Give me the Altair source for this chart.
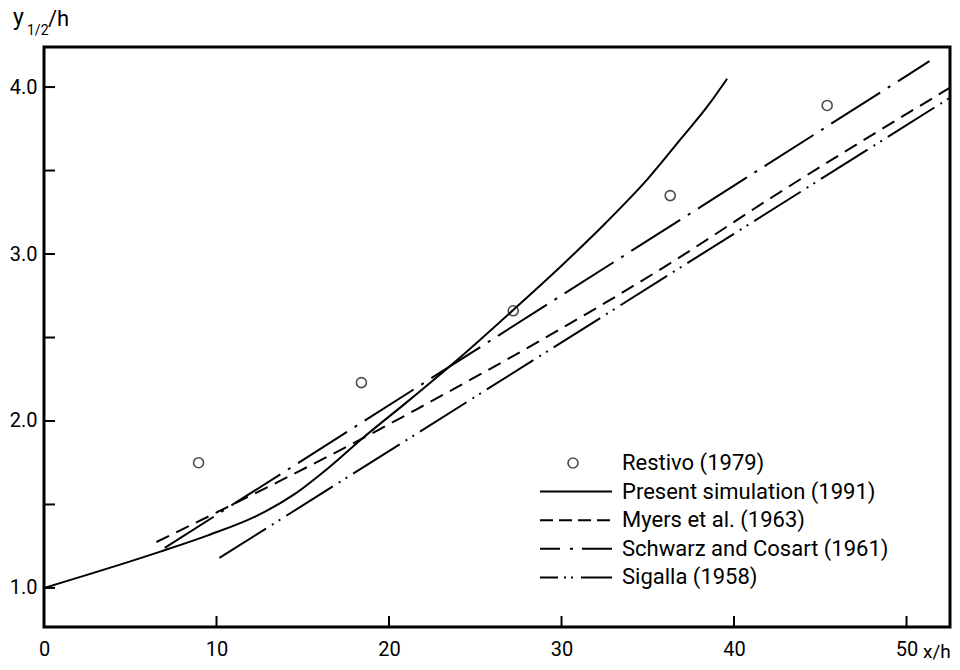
import altair as alt
import pandas as pd

# ---- data ----
restivo_x = [8.96, 18.4, 27.2, 36.3, 45.4]
restivo_y = [1.75, 2.23, 2.66, 3.35, 3.89]

present_x = [0.0, 6.7, 9.5, 12.3, 14.5, 16.5, 18.5, 21.0, 24.0, 27.2, 30.0, 32.5, 35.0, 37.0, 38.5, 39.6]
present_y = [1.0, 1.216, 1.315, 1.43, 1.56, 1.72, 1.90, 2.11, 2.37, 2.665, 2.93, 3.18, 3.45, 3.70, 3.89, 4.05]

myers_x = [6.52, 19.45, 21.6, 36.84, 42.2, 52.5]
myers_y = [1.275, 1.95, 2.07, 2.98, 3.34, 3.995]

schwarz_x = [7.0, 51.33]
schwarz_y = [1.24, 4.155]

sigalla_x = [10.17, 52.5]
sigalla_y = [1.18, 3.935]

x_ticks = [10, 20, 30, 40, 50]
x_labels = [0, 10, 20, 30, 40, 50]
y_ticks = [1.0, 1.5, 2.0, 2.5, 3.0, 3.5, 4.0]
y_labels = [1.0, 2.0, 3.0, 4.0]

legend_labels = ["Restivo (1979)", "Present simulation (1991)", "Myers et al. (1963)",
                 "Schwarz and Cosart (1961)", "Sigalla (1958)"]

# ---- styling ----
FONT = "Roboto"
W, H = 906, 580
XMAX = 52.52
YMIN, YMAX = 0.766, 4.24

xs = alt.Scale(domain=[0, XMAX], nice=False, zero=False)
ys = alt.Scale(domain=[YMIN, YMAX], nice=False, zero=False)

x_axis = alt.Axis(values=x_labels, ticks=False, domain=False, grid=False, title=None,
                  labelFontSize=20, labelFont=FONT, labelColor="black", labelPadding=12,
                  labelFlush=False, format="d")
y_axis = alt.Axis(values=y_labels, ticks=False, domain=False, grid=False, title=None,
                  labelFontSize=20, labelFont=FONT, labelColor="black", labelPadding=7,
                  labelFlush=False, format=".1f")

X = alt.X("x:Q", scale=xs, axis=x_axis)
Y = alt.Y("y:Q", scale=ys, axis=y_axis)


def line_layer(xv, yv, dash, interp="linear"):
    df = pd.DataFrame({"x": xv, "y": yv})
    kw = dict(color="black", strokeWidth=2, interpolate=interp, clip=True)
    if dash:
        kw["strokeDash"] = dash
    return alt.Chart(df).mark_line(**kw).encode(x=X, y=Y)


layers = []
layers.append(line_layer(present_x, present_y, None, "monotone"))
layers.append(line_layer(myers_x, myers_y, [14, 8], "monotone"))
layers.append(line_layer(schwarz_x, schwarz_y, [58, 9, 3, 9]))
layers.append(line_layer(sigalla_x, sigalla_y, [55, 7, 2, 6, 2, 7]))

pts = pd.DataFrame({"x": restivo_x, "y": restivo_y})
layers.append(alt.Chart(pts).mark_point(shape="circle", filled=False, color="black",
                                        size=100, strokeWidth=1.6).encode(x=X, y=Y))

# inward ticks
xt = pd.DataFrame({"x": x_ticks})
layers.append(alt.Chart(xt).mark_rule(color="black", strokeWidth=2).encode(
    x=X, y=alt.value(H), y2=alt.value(H - 11)))
yt = pd.DataFrame({"y": y_ticks})
layers.append(alt.Chart(yt).mark_rule(color="black", strokeWidth=2).encode(
    y=Y, x=alt.value(0), x2=alt.value(11)))

dummy = pd.DataFrame({"a": [0]})


def txt(s, px, py, size=20, align="left", baseline="alphabetic"):
    return alt.Chart(dummy).mark_text(font=FONT, fontSize=size, color="black",
                                      align=align, baseline=baseline).encode(
        x=alt.value(px), y=alt.value(py), text=alt.value(s))


# axis titles
layers.append(txt("y", -31, -22, 23))
layers.append(txt("1/2", -17, -12, 14))
layers.append(txt("/h", 4, -21, 22))
layers.append(txt("x/h", 879, 611, 19))

# legend
row0 = 416
dy = 28.6
sym_x0, sym_x1 = 496, 568
text_x = 578
legend_dashes = [None, [1, 0], [13, 6], [20, 10, 3, 9, 40], [18, 6, 2, 5, 2, 8, 40]]
for i, lab in enumerate(legend_labels):
    yy = row0 + i * dy
    layers.append(txt(lab, text_x, yy, 22, baseline="middle"))
    if i == 0:
        layers.append(alt.Chart(dummy).mark_point(shape="circle", filled=False, color="black",
                                                  size=100, strokeWidth=1.6).encode(
            x=alt.value(529), y=alt.value(yy)))
    else:
        layers.append(alt.Chart(dummy).mark_rule(color="black", strokeWidth=2,
                                                 strokeDash=legend_dashes[i]).encode(
            x=alt.value(sym_x0), x2=alt.value(sym_x1), y=alt.value(yy)))

chart = alt.layer(*layers).properties(
    width=W, height=H,
    background="white",
    autosize=alt.AutoSizeParams(type="none"),
    padding={"left": 36, "top": 39, "right": 2, "bottom": 42},
).configure_view(stroke="black", strokeWidth=3)

chart.save("out.html", embed_options={"renderer": "svg", "actions": False})
